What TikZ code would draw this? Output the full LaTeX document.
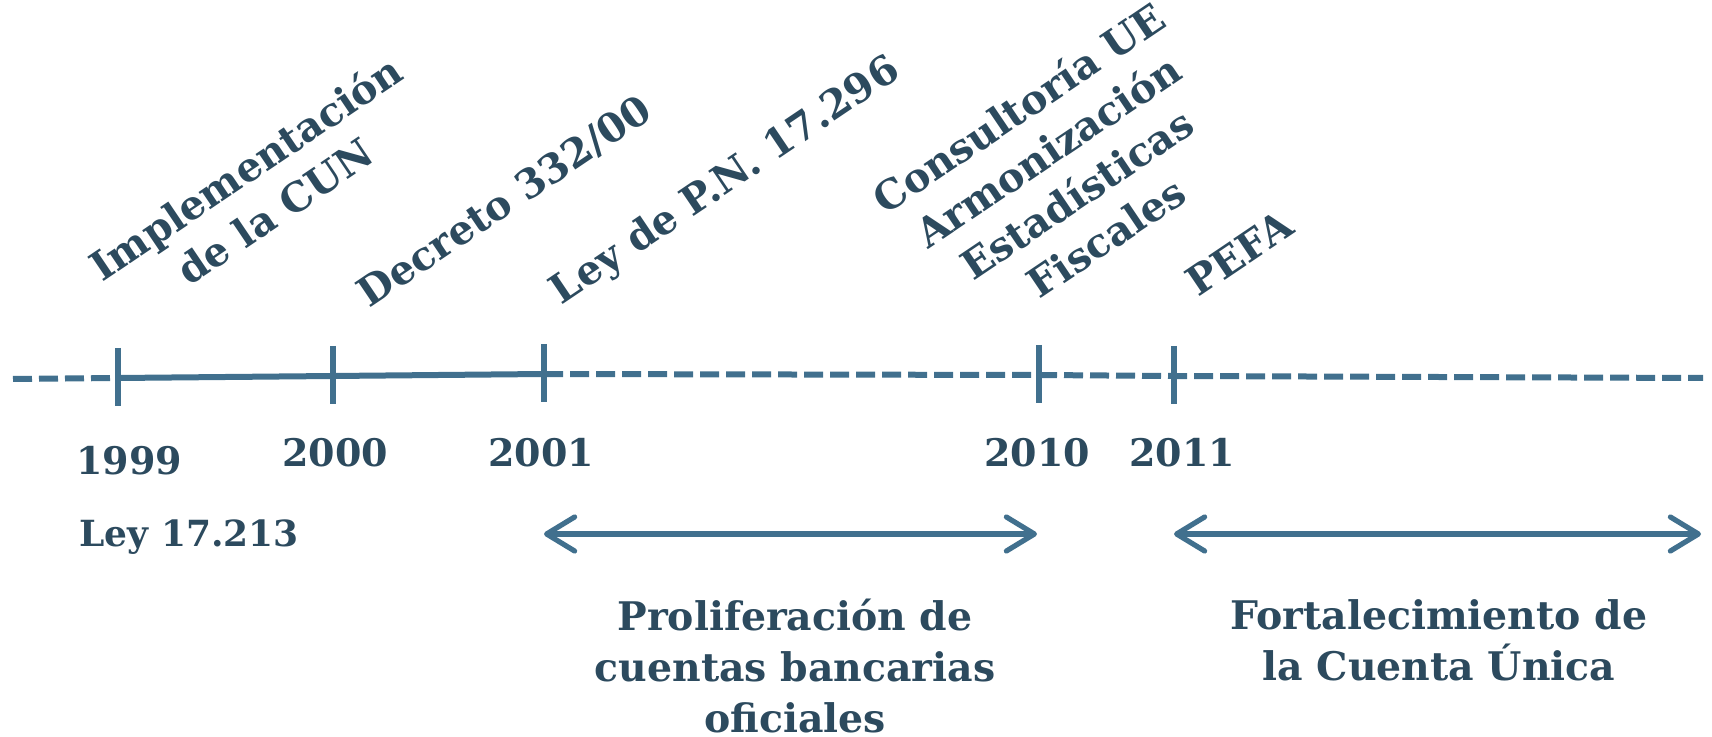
\documentclass[tikz,border=0pt]{standalone}
\usepackage{fontspec}
\setmainfont{DejaVu Serif}
\usetikzlibrary{arrows.meta}

\definecolor{linecol}{HTML}{41708E}
\definecolor{textcol}{HTML}{2C4A5E}

\tikzset{
  axisline/.style={linecol, line width=3pt},
  dashline/.style={axisline, dash pattern=on 9.5pt off 3.5pt},
  tickline/.style={linecol, line width=2.6pt},
  yearlabel/.style={font=\bfseries\fontsize{19}{22}\selectfont, text=textcol},
  eventlabel/.style={font=\bfseries\fontsize{20}{26}\selectfont, text=textcol, rotate=34, align=center},
  periodlabel/.style={font=\bfseries\fontsize{19.7}{25.5}\selectfont, text=textcol, align=center, inner sep=1pt},
  spanarrow/.style={linecol, line width=2.6pt,
    {Straight Barb[round,length=14pt,width=17pt]}-{Straight Barb[round,length=14pt,width=17pt]}}
}

\begin{document}
\begin{tikzpicture}[x=0.5pt, y=-0.5pt]
  \useasboundingbox (0,0) rectangle (1712,737);

  % Points on the time line
  \coordinate (start) at (13,379);
  \coordinate (t1999) at (118,378);
  \coordinate (t2000) at (333,376);
  \coordinate (t2001) at (544,374);
  \coordinate (t2010) at (1039,375);
  \coordinate (t2011) at (1174,376);
  \coordinate (finish) at (1703,378);

  % Time line
  \draw[dashline] (start) -- (t1999);
  \draw[axisline] (t1999) -- (t2000) -- (t2001);
  \draw[dashline] (t2001) -- (t2010) -- (t2011) -- (finish);

  % Ticks
  \foreach \t in {t1999,t2000,t2001,t2010,t2011} {
    \draw[tickline] ([yshift=15pt]\t) -- ([yshift=-14pt]\t);
  }

  % Years
  \node[yearlabel] (y1999) at (129,461) {1999};
  \node[yearlabel] (y2000) at (335,453) {2000};
  \node[yearlabel] (y2001) at (541,453) {2001};
  \node[yearlabel] (y2010) at (1037,453) {2010};
  \node[yearlabel] (y2011) at (1182,453) {2011};
  \node[yearlabel, font=\bfseries\fontsize{18}{22}\selectfont, anchor=west, inner sep=0pt] (ley) at (79,537) {Ley 17.213};

  % Events
  \node[eventlabel] (cun) at (260,189) {Implementación\\de la CUN};
  \node[eventlabel] (decreto) at (505,202) {Decreto 332/00};
  \node[eventlabel] (leypn) at (726,182) {Ley de P.N. 17.296};
  \node[eventlabel] (consult) at (1062,172) {Consultoría UE\\Armonización\\Estadísticas\\Fiscales};
  \node[eventlabel] (pefa) at (1239,253) {PEFA};

  % Periods
  \coordinate (p1a) at (544,534);
  \coordinate (p1b) at (1037,534);
  \coordinate (p2a) at (1174,534);
  \coordinate (p2b) at (1701,534);
  \draw[spanarrow] (p1a) -- (p1b);
  \draw[spanarrow] (p2a) -- (p2b);

  \node[periodlabel, anchor=north] (prolif) at (795,597) {Proliferación de\\cuentas bancarias\\oficiales};
  \node[periodlabel, anchor=north] (fortal) at (1439,597) {Fortalecimiento de\\la Cuenta Única};
\end{tikzpicture}
\end{document}
